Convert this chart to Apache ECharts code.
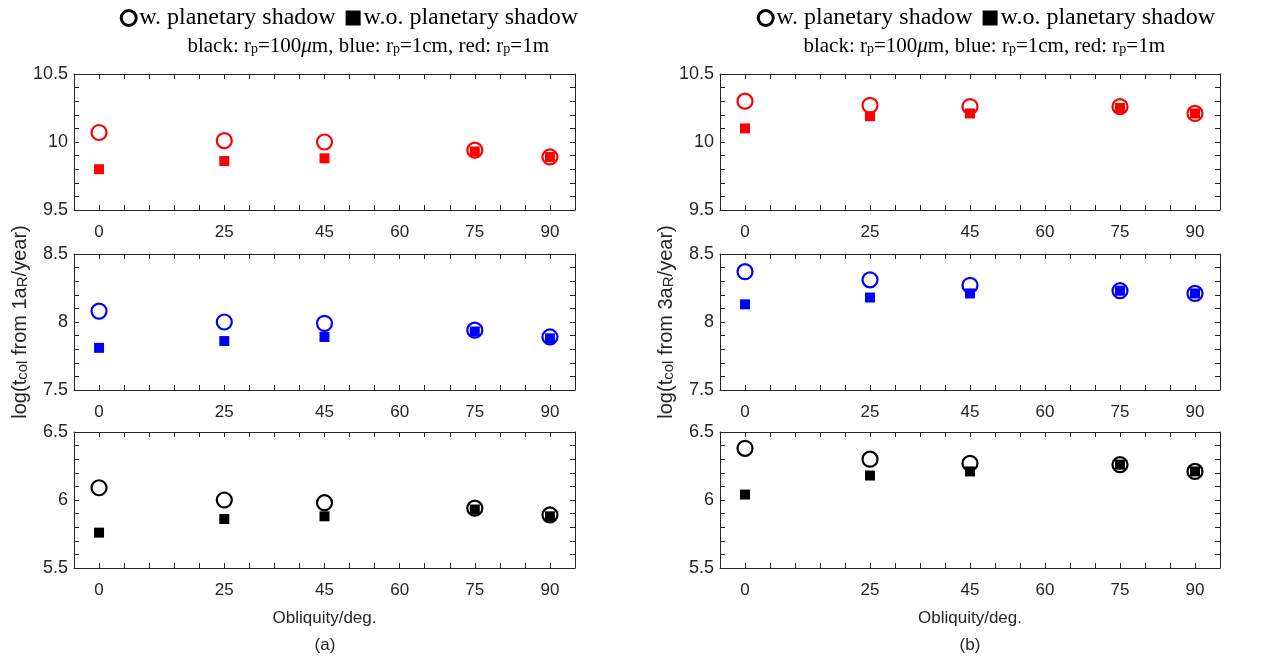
<!DOCTYPE html>
<html>
<head>
<meta charset="utf-8">
<script src="https://cdn.jsdelivr.net/npm/echarts@6/dist/echarts.min.js"></script>
<style>html,body{margin:0;padding:0;background:#fff;}#c{width:1284px;height:664px;}</style>
</head>
<body>
<div id="c"></div>
<script>
// ---- data ----
var obliquity = [0, 25, 45, 75, 90];
var xTickLabels = [0, 25, 45, 60, 75, 90];
var yRanges = [[9.5, 10.5], [7.5, 8.5], [5.5, 6.5]];
var yTickLabels = [[9.5, 10, 10.5], [7.5, 8, 8.5], [5.5, 6, 6.5]];

// panel (a): from 1 a_R
var a_red_w   = [10.07, 10.01, 10.00, 9.94, 9.89];
var a_red_wo  = [9.80, 9.86, 9.88, 9.93, 9.89];
var a_blue_w  = [8.08, 8.00, 7.99, 7.94, 7.89];
var a_blue_wo = [7.81, 7.86, 7.89, 7.93, 7.88];
var a_black_w  = [6.09, 6.00, 5.98, 5.94, 5.89];
var a_black_wo = [5.76, 5.86, 5.88, 5.93, 5.88];
// panel (b): from 3 a_R
var b_red_w   = [10.30, 10.27, 10.26, 10.26, 10.21];
var b_red_wo  = [10.10, 10.19, 10.21, 10.25, 10.21];
var b_blue_w  = [8.37, 8.31, 8.27, 8.23, 8.21];
var b_blue_wo = [8.13, 8.18, 8.21, 8.23, 8.21];
var b_black_w  = [6.38, 6.30, 6.27, 6.26, 6.21];
var b_black_wo = [6.04, 6.18, 6.21, 6.26, 6.21];

var legendNames = ['w. planetary shadow', 'w.o. planetary shadow'];
var colorNames = ['red', 'blue', 'black'];

// ---- layout ----
var AX = '#262626';
var SANS = 'Liberation Sans';
var SERIF = 'Liberation Serif';
var colLeft = [74, 720];
var colWidth = [501, 500];
var rowTop = [74, 254, 432];
var rowH = 136;
var colors = {red: '#ff0000', blue: '#0000ff', black: '#000000'};

var panels = [
  [[a_red_w, a_red_wo], [a_blue_w, a_blue_wo], [a_black_w, a_black_wo]],
  [[b_red_w, b_red_wo], [b_blue_w, b_blue_wo], [b_black_w, b_black_wo]]
];

function pairs(ys) { return obliquity.map(function (x, i) { return [x, ys[i]]; }); }

var grids = [], xAxes = [], yAxes = [], series = [];
var g = 0;
for (var c = 0; c < 2; c++) {
  for (var r = 0; r < 3; r++) {
    grids.push({left: colLeft[c], width: colWidth[c], top: rowTop[r], height: rowH, containLabel: false});
    var isBottom = (r === 2);
    var xCommon = {
      type: 'value', gridIndex: g, min: -5, max: 95, interval: 5,
      axisLine: {show: true, onZero: false, lineStyle: {color: AX, width: 1}},
      axisTick: {show: true, inside: true, length: 5, lineStyle: {color: AX}},
      splitLine: {show: false}
    };
    xAxes.push(Object.assign({}, xCommon, {
      position: 'bottom',
      axisLabel: {
        show: true, margin: 14, fontFamily: SANS, fontSize: 17, color: AX,
        formatter: function (v) { return xTickLabels.indexOf(Math.round(v)) >= 0 && Math.abs(v - Math.round(v)) < 1e-6 ? String(Math.round(v)) : ''; }
      },
      name: isBottom ? 'Obliquity/deg.' : '',
      nameLocation: 'middle', nameGap: 42,
      nameTextStyle: {fontFamily: SANS, fontSize: 17, color: AX}
    }));
    xAxes.push(Object.assign({}, xCommon, {position: 'top', axisLabel: {show: false}}));
    var yr = yRanges[r];
    var yl = yTickLabels[r];
    var yCommon = {
      type: 'value', gridIndex: g, min: yr[0], max: yr[1], interval: 0.1,
      axisLine: {show: true, onZero: false, lineStyle: {color: AX, width: 1}},
      axisTick: {show: true, inside: true, length: 5, lineStyle: {color: AX}},
      splitLine: {show: false}
    };
    var yName = '';
    if (r === 1) {
      yName = c === 0 ? 'log(t{sub|col} from 1a{sub|R}/year)' : 'log(t{sub|col} from 3a{sub|R}/year)';
    }
    yAxes.push(Object.assign({}, yCommon, {
      position: 'left',
      axisLabel: {
        show: true, margin: 6, fontFamily: SANS, fontSize: 18, color: AX,
        formatter: (function (labels) {
          return function (v) {
            for (var k = 0; k < labels.length; k++) if (Math.abs(v - labels[k]) < 1e-6) return String(labels[k]);
            return '';
          };
        })(yl)
      },
      name: yName, nameLocation: 'middle', nameGap: 44, nameRotate: 90,
      nameTextStyle: {
        fontFamily: SANS, fontSize: 20, color: AX,
        rich: {sub: {fontFamily: SANS, fontSize: 15, color: AX, verticalAlign: 'bottom', padding: [5, 0, 0, 0]}}
      }
    }));
    yAxes.push(Object.assign({}, yCommon, {position: 'right', axisLabel: {show: false}}));

    var col = colors[colorNames[r]];
    var d = panels[c][r];
    series.push({
      type: 'scatter', name: legendNames[0], xAxisIndex: 2 * g, yAxisIndex: 2 * g,
      symbol: 'circle', symbolSize: 15,
      itemStyle: {color: 'rgba(255,255,255,0)', borderColor: col, borderWidth: 2.2, opacity: 1},
      data: pairs(d[0]), z: 2, silent: true
    });
    series.push({
      type: 'scatter', name: legendNames[1], xAxisIndex: 2 * g, yAxisIndex: 2 * g,
      symbol: 'rect', symbolSize: 10,
      itemStyle: {color: col, opacity: 1},
      data: pairs(d[1]), z: 3, silent: true
    });
    g++;
  }
}

function legendFor(right) {
  return {
    right: right, top: 1, orient: 'horizontal', selectedMode: false,
    itemWidth: 15, itemHeight: 15, itemGap: 10,
    textStyle: {fontFamily: SERIF, fontSize: 24, color: '#000', padding: [0, 0, 0, -2]},
    data: [
      {name: legendNames[0], icon: 'circle', itemStyle: {color: '#ffffff', borderColor: '#000', borderWidth: 3, opacity: 1}},
      {name: legendNames[1], icon: 'rect', itemStyle: {color: '#000', borderWidth: 0, opacity: 1}}
    ]
  };
}

var line2 = 'black: r{sub|p}=100{it|μ}m, blue: r{sub|p}=1cm, red: r{sub|p}=1m';
var richSerif = {
  sub: {fontFamily: SERIF, fontSize: 14, fill: '#000', verticalAlign: 'bottom'},
  it: {fontFamily: SERIF, fontSize: 21, fontStyle: 'italic', fill: '#000'}
};

var option = {
  backgroundColor: '#ffffff',
  animation: false,
  grid: grids,
  xAxis: xAxes,
  yAxis: yAxes,
  series: series,
  legend: [legendFor(1284 - 583), legendFor(1284 - 1220)],
  graphic: [
    {type: 'text', x: 549, y: 46, style: {text: line2, font: '21px "Liberation Serif"', fill: '#000', textAlign: 'right', textVerticalAlign: 'middle', rich: richSerif}},
    {type: 'text', x: 1165, y: 46, style: {text: line2, font: '21px "Liberation Serif"', fill: '#000', textAlign: 'right', textVerticalAlign: 'middle', rich: richSerif}},
    {type: 'text', x: 325, y: 645, style: {text: '(a)', font: '17px "Liberation Sans"', fill: AX, textAlign: 'center', textVerticalAlign: 'middle'}},
    {type: 'text', x: 970, y: 645, style: {text: '(b)', font: '17px "Liberation Sans"', fill: AX, textAlign: 'center', textVerticalAlign: 'middle'}}
  ]
};

var chart = echarts.init(document.getElementById('c'), null, {renderer: 'canvas'});
chart.setOption(option);
</script>
</body>
</html>
